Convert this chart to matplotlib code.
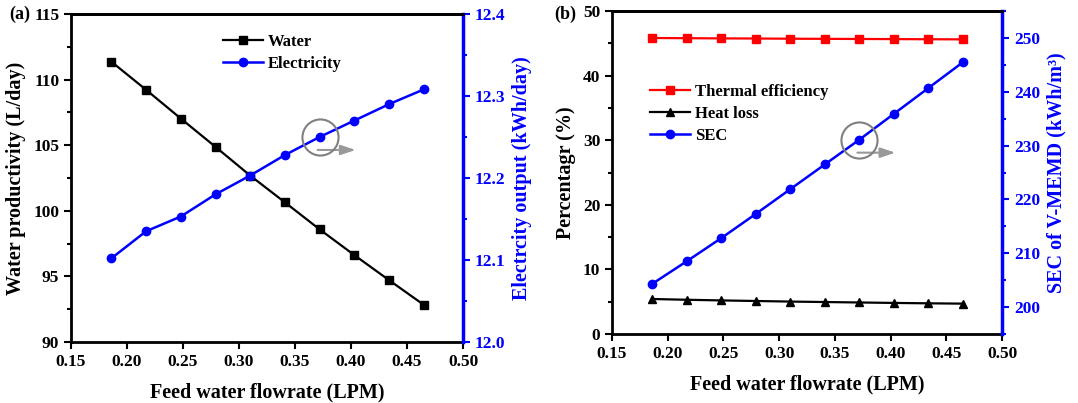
import matplotlib
matplotlib.use('Agg')
import matplotlib.pyplot as plt
from matplotlib.ticker import MultipleLocator

plt.rcParams['font.family'] = ['Liberation Serif', 'DejaVu Serif']
plt.rcParams['font.weight'] = 'bold'
plt.rcParams['axes.labelweight'] = 'bold'

# データ
flow = [0.186, 0.217, 0.248, 0.279, 0.310, 0.341, 0.372, 0.403, 0.434, 0.465]
water = [111.36, 109.22, 107.03, 104.87, 102.68, 100.64, 98.58, 96.62, 94.71, 92.83]
electricity = [12.102, 12.135, 12.153, 12.180, 12.203, 12.228, 12.250, 12.270, 12.290, 12.308]
thermal_eff = [45.82, 45.79, 45.76, 45.74, 45.71, 45.69, 45.67, 45.65, 45.63, 45.61]
heat_loss = [5.42, 5.30, 5.20, 5.11, 5.02, 4.95, 4.88, 4.81, 4.75, 4.70]
sec = [204.3, 208.5, 212.8, 217.3, 221.9, 226.5, 231.1, 235.9, 240.7, 245.5]

BLUE = '#0000ff'
FS_TICK = 12.5
FS_LABEL = 14.5

fig = plt.figure(figsize=(10.78, 4.03), dpi=100)


def style_axes(ax, ax2, xpad):
    for side in ['left', 'bottom', 'top']:
        ax.spines[side].set_linewidth(2)
    ax2.spines['right'].set_linewidth(2.5)
    ax2.spines['right'].set_color(BLUE)
    ax2.spines['left'].set_visible(False)
    ax2.spines['top'].set_linewidth(2)
    ax2.spines['bottom'].set_visible(False)
    ax.tick_params(axis='both', which='major', direction='out', length=5,
                   width=1.5, labelsize=FS_TICK)
    ax.tick_params(axis='y', which='minor', direction='out', length=3, width=1.5)
    ax2.tick_params(axis='y', which='major', direction='out', length=5,
                    width=1.5, labelsize=FS_TICK, colors=BLUE)
    ax2.tick_params(axis='y', which='minor', direction='out', length=3,
                    width=1.5, colors=BLUE)
    ax.set_xlim(0.15, 0.50)
    ax.xaxis.set_major_locator(MultipleLocator(0.05))
    ax.xaxis.set_major_formatter(plt.FormatStrFormatter('%.2f'))
    ax.set_xlabel('Feed water flowrate (LPM)', fontsize=FS_LABEL, labelpad=xpad)


def mark_circle(ax, x, y):
    # 右軸を示す丸と矢印
    ax.plot([x], [y], 'o', markersize=26, markerfacecolor='none',
            markeredgecolor='#808080', markeredgewidth=1.5, zorder=5)
    px, py = ax.transData.transform((x, y))
    inv = ax.transData.inverted()
    start = inv.transform((px - 2, py - 13))
    end = inv.transform((px + 36, py - 13))
    ax.annotate('', xy=end, xytext=start,
                arrowprops=dict(arrowstyle='-|>,head_length=0.9,head_width=0.3',
                                color='#999999', lw=1.5,
                                shrinkA=0, shrinkB=0))


# (a)
ax1 = fig.add_axes([0.0659, 0.1514, 0.3636, 0.814])
ax1b = ax1.twinx()
ax1.plot(flow, water, '-s', color='black', lw=1.6, markersize=6, label='Water')
ax1b.plot(flow, electricity, '-o', color=BLUE, lw=1.8, markersize=6,
          label='Electricity')
ax1.set_ylim(90, 115)
ax1.yaxis.set_major_locator(MultipleLocator(5))
ax1.yaxis.set_minor_locator(MultipleLocator(2.5))
ax1b.set_ylim(12.0, 12.4)
ax1b.yaxis.set_major_locator(MultipleLocator(0.1))
ax1b.yaxis.set_minor_locator(MultipleLocator(0.05))
ax1b.yaxis.set_major_formatter(plt.FormatStrFormatter('%.1f'))
style_axes(ax1, ax1b, 9)
ax1.set_ylabel('Water productivity (L/day)', fontsize=FS_LABEL, labelpad=5)
ax1b.set_ylabel('Electrcity output (kWh/day)', fontsize=FS_LABEL, color=BLUE,
                labelpad=5)
h1, l1 = ax1.get_legend_handles_labels()
h2, l2 = ax1b.get_legend_handles_labels()
ax1.legend(h1 + h2, l1 + l2, loc='upper left', bbox_to_anchor=(0.35, 0.985),
           frameon=False, fontsize=12, handlelength=2.4, handletextpad=0.3,
           labelspacing=0.35)
mark_circle(ax1b, flow[6], electricity[6])
fig.text(0.009, 0.952, '(a)', fontsize=13, fontweight='bold')

# (b)
ax2 = fig.add_axes([0.5677, 0.1712, 0.3618, 0.8015])
ax2b = ax2.twinx()
ax2.plot(flow, thermal_eff, '-s', color='#ff0000', lw=1.6, markersize=6,
         label='Thermal efficiency')
ax2.plot(flow, heat_loss, '-^', color='black', lw=1.6, markersize=6,
         label='Heat loss')
ax2b.plot(flow, sec, '-o', color=BLUE, lw=1.8, markersize=6, label='SEC')
ax2.set_ylim(0, 50)
ax2.yaxis.set_major_locator(MultipleLocator(10))
ax2.yaxis.set_minor_locator(MultipleLocator(5))
ax2b.set_ylim(195, 255)
ax2b.yaxis.set_major_locator(MultipleLocator(10))
ax2b.yaxis.set_minor_locator(MultipleLocator(5))
style_axes(ax2, ax2b, 9)
ax2.set_ylabel('Percentagr (%)', fontsize=FS_LABEL, labelpad=5)
ax2b.set_ylabel('SEC of V-MEMD (kWh/m³)', fontsize=FS_LABEL, color=BLUE,
                labelpad=5)
h1, l1 = ax2.get_legend_handles_labels()
h2, l2 = ax2b.get_legend_handles_labels()
ax2.legend(h1 + h2, l1 + l2, loc='upper left', bbox_to_anchor=(0.06, 0.82),
           frameon=False, fontsize=12, handlelength=2.4, handletextpad=0.3,
           labelspacing=0.35)
mark_circle(ax2b, flow[6], sec[6])
fig.text(0.514, 0.952, '(b)', fontsize=13, fontweight='bold')

fig.savefig('out.png', dpi=100)
